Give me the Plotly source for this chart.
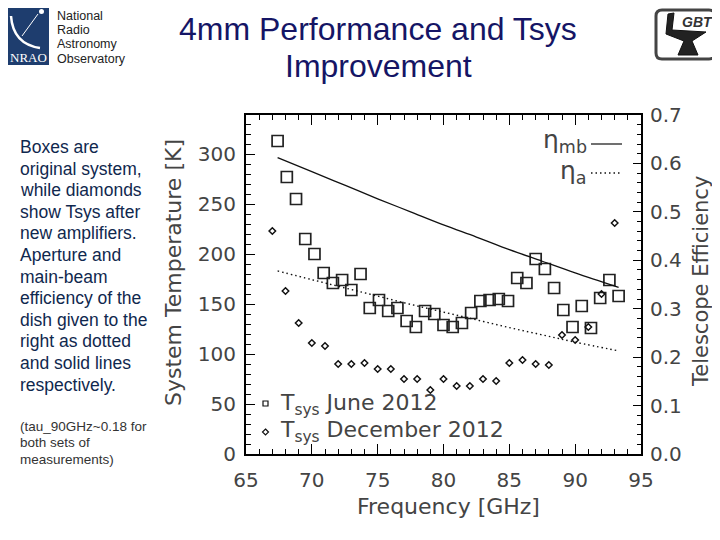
import plotly.graph_objects as go

# ---------------- data ----------------
june_freq = [67.4, 68.1, 68.8, 69.5, 70.2, 70.9, 71.6, 72.3, 73.0, 73.7,
             74.4, 75.1, 75.8, 76.5, 77.2, 77.9, 78.6, 79.3, 80.0, 80.7,
             81.4, 82.1, 82.8, 83.5, 84.2, 84.9, 85.6, 86.3, 87.0, 87.7,
             88.4, 89.1, 89.8, 90.5, 91.2, 91.9, 92.6, 93.3]
june_tsys = [313, 277, 255, 215, 200, 181, 171, 174, 164, 180,
             146, 154, 143, 146, 133, 127, 143, 140, 129, 127,
             131, 141, 153, 154, 155, 153, 176, 171, 195, 185,
             166, 144, 127, 148, 126, 156, 174, 158]

dec_freq = [67, 68, 69, 70, 71, 72, 73, 74, 75, 76, 77, 78, 79, 80,
            81, 82, 83, 84, 85, 86, 87, 88, 89, 90, 91, 92, 93]
dec_tsys = [223, 163, 131, 111, 108, 90, 90, 91, 85, 85, 75, 75, 64, 75,
            68, 68, 75, 73, 91, 94, 90, 89, 119, 114, 127, 160, 231]

eff_freq = [67.4, 70.0, 72.5, 75.0, 77.5, 80.0, 82.5, 85.0, 87.5, 90.0, 93.3]
eta_mb = [0.612, 0.583, 0.555, 0.527, 0.500, 0.473, 0.448, 0.422, 0.398, 0.374, 0.344]
eta_a = [0.378, 0.360, 0.343, 0.326, 0.309, 0.293, 0.277, 0.261, 0.246, 0.231, 0.213]

x_ticks = [65, 70, 75, 80, 85, 90, 95]
y_ticks = [0, 50, 100, 150, 200, 250, 300]
y2_ticks = [0.0, 0.1, 0.2, 0.3, 0.4, 0.5, 0.6, 0.7]

desc_lines = ["Boxes are", "original system,", "while diamonds", "show Tsys after",
              "new amplifiers.", "Aperture and", "main-beam", "efficiency of the",
              "dish given to the", "right as dotted", "and solid lines", "respectively."]
note_lines = ["(tau_90GHz~0.18 for", "both sets of", "measurements)"]

# ---------------- layout helpers (page pixel -> paper) ----------------
PAGE_W, PAGE_H = 720, 540
OFF = 8                      # default body margin of the html page
W, H = PAGE_W - OFF, PAGE_H - OFF
L, R, T, B = 246, 641, 115, 454   # plot frame in page pixels


def px(x):
    return (x - L) / (R - L)


def py(y):
    return (B - y) / (B - T)


AX_FONT = dict(family="DejaVu Sans", size=20, color="#444444")
INK = "#111111"

fig = go.Figure()

fig.add_trace(go.Scatter(
    x=june_freq, y=june_tsys, mode="markers", name="Tsys June 2012",
    marker=dict(symbol="square-open", size=11, color="#222222",
                line=dict(width=1.7, color="#222222")),
    showlegend=False))

fig.add_trace(go.Scatter(
    x=dec_freq, y=dec_tsys, mode="markers", name="Tsys December 2012",
    marker=dict(symbol="diamond-open", size=5, color=INK,
                line=dict(width=1.5, color=INK)),
    showlegend=False))

fig.add_trace(go.Scatter(
    x=eff_freq, y=eta_mb, yaxis="y2", mode="lines", name="eta_mb",
    line=dict(color=INK, width=1.3, shape="spline"), showlegend=False))

fig.add_trace(go.Scatter(
    x=eff_freq, y=eta_a, yaxis="y2", mode="lines", name="eta_a",
    line=dict(color=INK, width=1.4, dash="1.5px,3px", shape="spline"), showlegend=False))

fig.update_layout(
    width=W, height=H,
    margin=dict(l=L - OFF, r=PAGE_W - R, t=T - OFF, b=PAGE_H - B, pad=0),
    paper_bgcolor="white", plot_bgcolor="white",
    showlegend=False,
    xaxis=dict(range=[65, 95], tickvals=x_ticks, ticks="inside", ticklen=10,
               tickwidth=1.3, tickcolor="black", showline=True, linecolor="black",
               linewidth=2, mirror="ticks", showgrid=False, zeroline=False,
               tickfont=AX_FONT, ticklabelstandoff=7, automargin=False,
               minor=dict(dtick=1, ticks="inside", ticklen=5, tickwidth=1,
                          tickcolor="black", showgrid=False)),
    yaxis=dict(range=[0, 339], tickvals=y_ticks, ticks="inside", ticklen=9,
               tickwidth=1.3, tickcolor="black", showline=True, linecolor="black",
               linewidth=2, mirror=False, showgrid=False, zeroline=False,
               tickfont=AX_FONT, ticklabelstandoff=4, automargin=False,
               minor=dict(dtick=10, ticks="inside", ticklen=5, tickwidth=1,
                          tickcolor="black", showgrid=False)),
    yaxis2=dict(range=[0, 0.7], tickvals=y2_ticks, tickformat=".1f",
                overlaying="y", side="right", ticks="inside", ticklen=8,
                tickwidth=1.3, tickcolor="black", showline=True, linecolor="black",
                linewidth=2, showgrid=False, zeroline=False,
                tickfont=AX_FONT, ticklabelstandoff=3, automargin=False,
                minor=dict(dtick=0.02, ticks="inside", ticklen=4, tickwidth=1,
                           tickcolor="black", showgrid=False)),
)

ann = []
shapes = []

# title
TITLE_FONT = dict(family="Liberation Sans, Arial", size=32, color="#151565")
ann.append(dict(x=px(378), y=py(29), xref="paper", yref="paper", text="4mm Performance and Tsys",
                showarrow=False, xanchor="center", yanchor="middle", font=TITLE_FONT))
ann.append(dict(x=px(378), y=py(66), xref="paper", yref="paper", text="Improvement",
                showarrow=False, xanchor="center", yanchor="middle", font=TITLE_FONT))

# axis titles
TITLE_AX = dict(family="DejaVu Sans", size=22, color="#444444")
ann.append(dict(x=px(448), y=py(506), xref="paper", yref="paper", text="Frequency [GHz]",
                showarrow=False, xanchor="center", yanchor="middle", font=TITLE_AX))
ann.append(dict(x=px(173), y=py(273), xref="paper", yref="paper", text="System Temperature [K]",
                showarrow=False, xanchor="center", yanchor="middle", textangle=-90, font=TITLE_AX))
ann.append(dict(x=px(701), y=py(282), xref="paper", yref="paper", text="Telescope Efficiency",
                showarrow=False, xanchor="center", yanchor="middle", textangle=-90,
                font=dict(family="DejaVu Sans", size=21, color="#444444")))

# description text on the left
for i, line in enumerate(desc_lines):
    ann.append(dict(x=px(18), y=py(147 + 21.6 * i), xref="paper", yref="paper", text=line,
                    showarrow=False, xanchor="left", yanchor="middle",
                    font=dict(family="Liberation Sans, Arial", size=17.5, color="#10284e")))
for i, line in enumerate(note_lines):
    ann.append(dict(x=px(18), y=py(426 + 16.7 * i), xref="paper", yref="paper", text=line,
                    showarrow=False, xanchor="left", yanchor="middle",
                    font=dict(family="Liberation Sans, Arial", size=13.5, color="#333333")))

# in-plot legend (Tsys)
LEG_FONT = dict(family="DejaVu Sans", size=22, color="#444444")
ann.append(dict(x=px(278), y=py(404), xref="paper", yref="paper",
                text="T<sub>sys</sub> June 2012", showarrow=False,
                xanchor="left", yanchor="middle", font=LEG_FONT))
ann.append(dict(x=px(278), y=py(431), xref="paper", yref="paper",
                text="T<sub>sys</sub> December 2012", showarrow=False,
                xanchor="left", yanchor="middle", font=LEG_FONT))
shapes.append(dict(type="rect", xref="paper", yref="paper",
                   x0=px(263), x1=px(268), y0=py(401), y1=py(406),
                   line=dict(color=INK, width=1.2)))
shapes.append(dict(type="path", xref="paper", yref="paper",
                   path="M %f,%f L %f,%f L %f,%f L %f,%f Z" % (
                       px(265.5), py(429), px(268.5), py(432),
                       px(265.5), py(435), px(262.5), py(432)),
                   line=dict(color=INK, width=1.2)))

# efficiency legend (top right)
ETA_FONT = dict(family="DejaVu Sans", size=25, color="#444444")
ann.append(dict(x=px(589), y=py(141), xref="paper", yref="paper",
                text="η<sub>mb</sub>", showarrow=False,
                xanchor="right", yanchor="middle", font=ETA_FONT))
ann.append(dict(x=px(589), y=py(172), xref="paper", yref="paper",
                text="η<sub>a</sub>", showarrow=False,
                xanchor="right", yanchor="middle", font=ETA_FONT))
shapes.append(dict(type="line", xref="paper", yref="paper",
                   x0=px(591), x1=px(622), y0=py(144), y1=py(144),
                   line=dict(color=INK, width=1.2)))
shapes.append(dict(type="line", xref="paper", yref="paper",
                   x0=px(591), x1=px(622), y0=py(173), y1=py(173),
                   line=dict(color=INK, width=1.3, dash="1.5px,3px")))

# NRAO logo (approximation)
shapes.append(dict(type="rect", xref="paper", yref="paper", layer="above",
                   x0=px(1), x1=px(49), y0=py(2), y1=py(65),
                   fillcolor="#1e3d6e", line=dict(width=0)))
shapes.append(dict(type="path", xref="paper", yref="paper",
                   path="M %f,%f Q %f,%f %f,%f" % (px(11), py(16), px(13), py(44), px(40), py(48)),
                   line=dict(color="white", width=2.5)))
shapes.append(dict(type="line", xref="paper", yref="paper",
                   x0=px(22), y0=py(36), x1=px(38), y1=py(14),
                   line=dict(color="white", width=1)))
shapes.append(dict(type="circle", xref="paper", yref="paper",
                   x0=px(39), x1=px(44), y0=py(9), y1=py(14),
                   fillcolor="white", line=dict(width=0)))
ann.append(dict(x=px(29), y=py(57), xref="paper", yref="paper", text="NRAO",
                showarrow=False, xanchor="center", yanchor="middle",
                font=dict(family="Liberation Serif", size=13, color="white")))
for i, word in enumerate(["National", "Radio", "Astronomy", "Observatory"]):
    ann.append(dict(x=px(55), y=py(16 + 14.2 * i), xref="paper", yref="paper", text=word,
                    showarrow=False, xanchor="left", yanchor="middle",
                    font=dict(family="Liberation Sans, Arial", size=12.5, color="#222222")))

# GBT logo (approximation)
shapes.append(dict(type="path", xref="paper", yref="paper",
                   path="M %f,%f L %f,%f Q %f,%f %f,%f L %f,%f Q %f,%f %f,%f L %f,%f Q %f,%f %f,%f L %f,%f Q %f,%f %f,%f Z" % (
                       px(662), py(10), px(709), py(10), px(715), py(10), px(715), py(16),
                       px(715), py(53), px(715), py(59), px(709), py(59),
                       px(662), py(59), px(656), py(59), px(656), py(53),
                       px(656), py(16), px(656), py(10), px(662), py(10)),
                   fillcolor="white", line=dict(color="#444444", width=3)))
shapes.append(dict(type="path", xref="paper", yref="paper",
                   path="M %f,%f L %f,%f L %f,%f L %f,%f L %f,%f L %f,%f L %f,%f L %f,%f L %f,%f Z" % (
                       px(668), py(14), px(674), py(13), px(672), py(30), px(706), py(32),
                       px(692), py(41), px(698), py(55), px(678), py(55),
                       px(684), py(41), px(666), py(34)),
                   fillcolor="#222222", line=dict(color="#111111", width=1)))
ann.append(dict(x=px(697), y=py(22), xref="paper", yref="paper", text="<i><b>GBT</b></i>",
                showarrow=False, xanchor="center", yanchor="middle",
                font=dict(family="Liberation Sans, Arial", size=14, color="#333333")))

fig.update_layout(annotations=ann, shapes=shapes)

fig.write_html("out.html")
